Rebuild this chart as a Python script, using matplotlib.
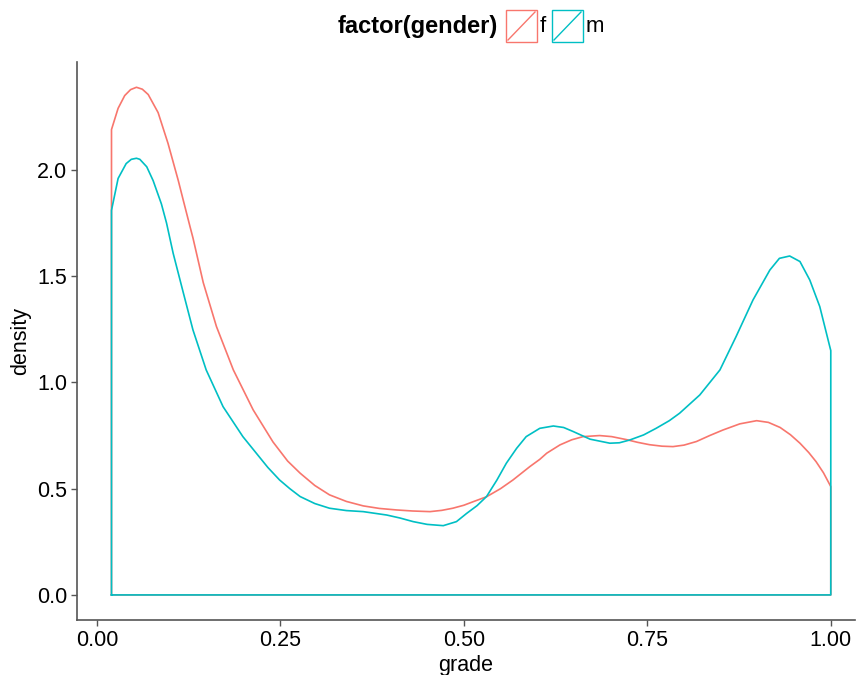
import matplotlib
matplotlib.use("Agg")
import matplotlib.pyplot as plt
from matplotlib.patches import Rectangle
from matplotlib.lines import Line2D

plt.rcParams['font.family'] = ['Liberation Sans', 'DejaVu Sans']

# density curves (grade, density)
f_grade = [0.020, 0.029, 0.038, 0.046, 0.054, 0.062, 0.070, 0.0835, 0.097, 0.111,
           0.1176, 0.127, 0.131, 0.145, 0.163, 0.186, 0.213, 0.240, 0.260, 0.277,
           0.297, 0.317, 0.340, 0.363, 0.385, 0.408, 0.430, 0.454, 0.470, 0.485,
           0.500, 0.513, 0.531, 0.550, 0.567, 0.590, 0.6035, 0.613, 0.631, 0.647,
           0.6625, 0.685, 0.7015, 0.7215, 0.737, 0.753, 0.770, 0.785, 0.800, 0.817,
           0.835, 0.853, 0.876, 0.899, 0.915, 0.931, 0.945, 0.958, 0.970, 0.980,
           0.990, 1.000]
f_density = [2.19, 2.29, 2.35, 2.378, 2.389, 2.38, 2.355, 2.27, 2.125, 1.95,
             1.86, 1.733, 1.68, 1.47, 1.263, 1.059, 0.871, 0.72, 0.63, 0.573,
             0.515, 0.471, 0.44, 0.419, 0.407, 0.40, 0.395, 0.392, 0.398, 0.408,
             0.422, 0.439, 0.462, 0.50, 0.541, 0.604, 0.638, 0.667, 0.706, 0.73,
             0.745, 0.750, 0.745, 0.731, 0.718, 0.707, 0.70, 0.698, 0.705, 0.722,
             0.75, 0.776, 0.805, 0.820, 0.812, 0.788, 0.754, 0.714, 0.67, 0.627,
             0.575, 0.51]

m_grade = [0.020, 0.029, 0.040, 0.047, 0.054, 0.0586, 0.068, 0.0767, 0.088, 0.095,
           0.104, 0.118, 0.131, 0.149, 0.172, 0.199, 0.233, 0.249, 0.263, 0.277,
           0.297, 0.317, 0.340, 0.363, 0.395, 0.413, 0.431, 0.450, 0.472, 0.490,
           0.504, 0.518, 0.531, 0.545, 0.558, 0.572, 0.585, 0.6035, 0.622, 0.636,
           0.649, 0.672, 0.699, 0.712, 0.726, 0.745, 0.762, 0.780, 0.794, 0.8215,
           0.849, 0.871, 0.894, 0.917, 0.930, 0.944, 0.958, 0.9714, 0.985, 0.9986,
           1.000]
m_density = [1.81, 1.96, 2.03, 2.05, 2.055, 2.05, 2.015, 1.95, 1.84, 1.75,
             1.608, 1.42, 1.247, 1.059, 0.886, 0.745, 0.600, 0.541, 0.50, 0.463,
             0.43, 0.408, 0.397, 0.392, 0.376, 0.362, 0.345, 0.332, 0.326, 0.345,
             0.384, 0.42, 0.463, 0.54, 0.62, 0.69, 0.745, 0.784, 0.795, 0.788,
             0.769, 0.733, 0.714, 0.716, 0.729, 0.753, 0.784, 0.82, 0.855, 0.941,
             1.059, 1.216, 1.388, 1.529, 1.584, 1.595, 1.569, 1.482, 1.357, 1.169,
             1.15]

genders = ["f", "m"]
colors = {"f": "#F8766D", "m": "#00BFC4"}
series = {"f": (f_grade, f_density), "m": (m_grade, m_density)}

W, H = 858, 675
fig = plt.figure(figsize=(W / 100, H / 100), dpi=100)
ax = fig.add_axes([77 / W, 55 / H, (855 - 77) / W, (620 - 62) / H])

for g in genders:
    xs, ys = series[g]
    # closed outline like geom_density
    px = [xs[0]] + list(xs) + [xs[-1], xs[0]]
    py = [0] + list(ys) + [0, 0]
    ax.plot(px, py, color=colors[g], lw=1.2, solid_joinstyle='round')

ax.set_xlim(-0.027, 1.033)
ax.set_ylim(-0.118, 2.508)
ax.set_xticks([0, 0.25, 0.5, 0.75, 1.0])
ax.set_xticklabels(["0.00", "0.25", "0.50", "0.75", "1.00"])
ax.set_yticks([0, 0.5, 1.0, 1.5, 2.0])
ax.set_yticklabels(["0.0", "0.5", "1.0", "1.5", "2.0"])
for s in ["top", "right"]:
    ax.spines[s].set_visible(False)
for s in ["left", "bottom"]:
    ax.spines[s].set_color("#555555")
    ax.spines[s].set_linewidth(1.2)
ax.tick_params(length=4, width=1, color="#555555", labelsize=15.5, labelcolor="black", pad=3)
ax.set_xlabel("grade", fontsize=15.5, labelpad=3)
ax.set_ylabel("density", fontsize=15.5, labelpad=4)

# legend at top, drawn in figure pixels
def fx(p):
    return p / W

def fy(p):
    return 1 - p / H

fig.text(fx(498), fy(27), "factor(gender)", fontsize=17, fontweight="bold",
         ha="right", va="center")
key_x = {"f": 506, "m": 552}
for g in genders:
    x0 = key_x[g]
    fig.add_artist(Rectangle((fx(x0), fy(42)), 31 / W, 32 / H, transform=fig.transFigure,
                             fill=False, edgecolor=colors[g], lw=1.0))
    fig.add_artist(Line2D([fx(x0 + 2), fx(x0 + 29)], [fy(40), fy(12)],
                          transform=fig.transFigure, color=colors[g], lw=1.0))
    fig.text(fx(x0 + 34), fy(27), g, fontsize=16, ha="left", va="center")

fig.savefig("out.png", dpi=100)
